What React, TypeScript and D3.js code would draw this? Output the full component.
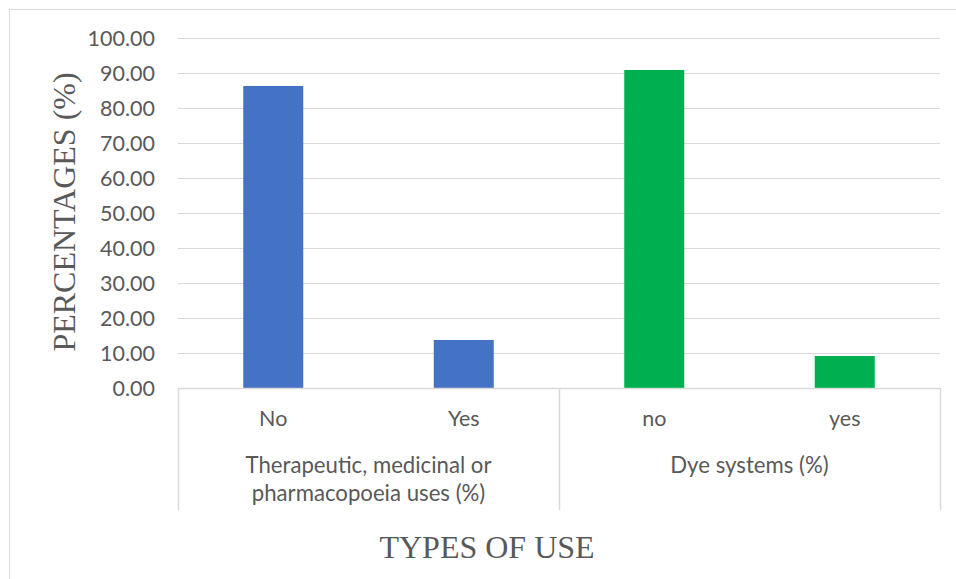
import React from "react";
import * as d3 from "d3";

// Share of respondents per type of use, split by answer
const categories = ["No", "Yes", "no", "yes"];
const groups = ["Therapeutic, medicinal or|pharmacopoeia uses (%)", "Dye systems (%)"];
const values = [86.29, 13.71, 90.86, 9.14];
const colors = ["#4472C4", "#4472C4", "#00B050", "#00B050"];
const yTicks = [0, 10, 20, 30, 40, 50, 60, 70, 80, 90, 100];

const W = 956;
const H = 579;
const left = 178;
const right = 940;
const top = 38;
const bottom = 388;

const sans = "Lato, 'Open Sans', 'Liberation Sans', sans-serif";
const serif = "'Liberation Serif', 'Times New Roman', serif";
const textColor = "#595959";
const gridColor = "#D9D9D9";
const labelSize = 21.5;
const groupSize = 22.2;

export default function App() {
  const y = d3.scaleLinear().domain([0, 100]).range([bottom, top]);
  const x = d3.scaleBand<string>().domain(categories).range([left, right]).padding(0);
  const barW = x.bandwidth() * 0.315;
  const groupScale = d3
    .scaleBand<number>()
    .domain(groups.map((_, i) => i))
    .range([left, right])
    .padding(0);

  return (
    <svg
      width={W}
      height={H}
      style={{ position: "absolute", left: 0, top: 0, display: "block" }}
    >
      <rect x={0} y={0} width={W} height={H} fill="#fff" />
      {/* chart frame */}
      <rect x={9.5} y={9.5} width={W + 20} height={H + 20} fill="none" stroke={gridColor} strokeWidth={1} />

      {/* gridlines and y tick labels */}
      {yTicks.map((t) => (
        <g key={t}>
          <line
            x1={left}
            x2={right}
            y1={Math.round(y(t)) + 0.5}
            y2={Math.round(y(t)) + 0.5}
            stroke={gridColor}
            strokeWidth={1}
          />
          <text
            x={155}
            y={y(t)}
            dy="0.36em"
            textAnchor="end"
            fontFamily={sans}
            fontSize={labelSize}
            fill={textColor}
          >
            {t.toFixed(2)}
          </text>
        </g>
      ))}

      {/* bars */}
      {categories.map((c, i) => (
        <rect
          key={c}
          x={(x(c) as number) + (x.bandwidth() - barW) / 2}
          y={y(values[i])}
          width={barW}
          height={y(0) - y(values[i])}
          fill={colors[i]}
        />
      ))}

      {/* category axis with group dividers */}
      <line x1={left} x2={right} y1={bottom + 0.5} y2={bottom + 0.5} stroke={gridColor} strokeWidth={1.5} />
      {[left, groupScale(1) as number, right].map((xv, i) => (
        <line key={i} x1={xv + 0.5} x2={xv + 0.5} y1={bottom} y2={510} stroke={gridColor} strokeWidth={1.5} />
      ))}
      {categories.map((c) => (
        <text
          key={"l" + c}
          x={(x(c) as number) + x.bandwidth() / 2}
          y={426}
          textAnchor="middle"
          fontFamily={sans}
          fontSize={labelSize}
          fill={textColor}
        >
          {c}
        </text>
      ))}
      {groups.map((g, gi) => {
        const cx = (groupScale(gi) as number) + groupScale.bandwidth() / 2;
        return (
          <text
            key={"g" + gi}
            x={cx}
            y={473}
            textAnchor="middle"
            fontFamily={sans}
            fontSize={groupSize}
            fill={textColor}
          >
            {g.split("|").map((line, li) => (
              <tspan key={li} x={cx} dy={li === 0 ? 0 : 28}>
                {line}
              </tspan>
            ))}
          </text>
        );
      })}

      {/* axis titles */}
      <text
        x={487}
        y={558}
        textAnchor="middle"
        fontFamily={serif}
        fontSize={32}
        fill={textColor}
      >
        TYPES OF USE
      </text>
      <text
        transform={`translate(75, 212) rotate(-90)`}
        textAnchor="middle"
        fontFamily={serif}
        fontSize={32}
        fill={textColor}
      >
        PERCENTAGES (%)
      </text>
    </svg>
  );
}
